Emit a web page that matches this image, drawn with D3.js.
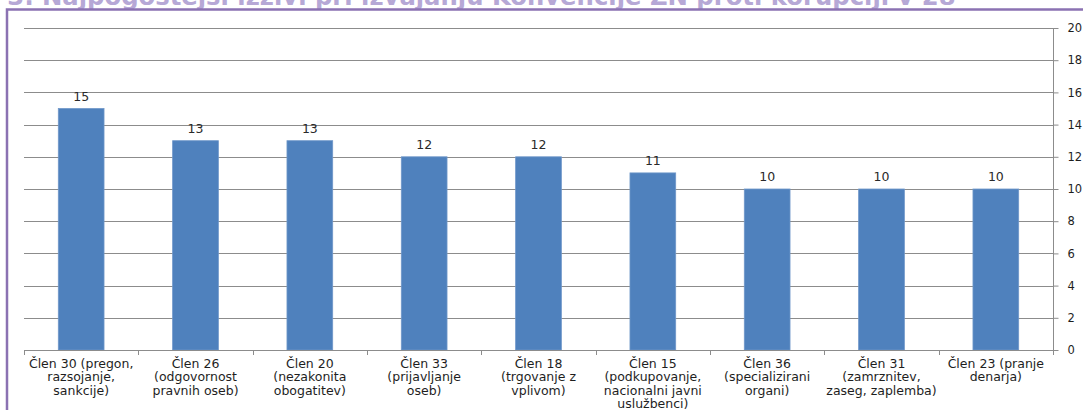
<!DOCTYPE html>
<html>
<head>
<meta charset="utf-8">
<script src="https://cdn.jsdelivr.net/npm/d3@7"></script>
<style>
  html, body { margin: 0; padding: 0; background: #fff; overflow: hidden; }
  svg { display: block; }
  text { font-family: "DejaVu Sans", Verdana, sans-serif; }
</style>
</head>
<body>
<svg id="chart" width="1083" height="410"></svg>
<script>
// Articles of the UN Convention against Corruption (category labels, one line per entry)
const categories = [
  ["Člen 30 (pregon,", "razsojanje,", "sankcije)"],
  ["Člen 26", "(odgovornost", "pravnih oseb)"],
  ["Člen 20", "(nezakonita", "obogatitev)"],
  ["Člen 33", "(prijavljanje", "oseb)"],
  ["Člen 18", "(trgovanje z", "vplivom)"],
  ["Člen 15", "(podkupovanje,", "nacionalni javni", "uslužbenci)"],
  ["Člen 36", "(specializirani", "organi)"],
  ["Člen 31", "(zamrznitev,", "zaseg, zaplemba)"],
  ["Člen 23 (pranje", "denarja)"]
];
// Number of countries reporting each challenge
const values = [15, 13, 13, 12, 12, 11, 10, 10, 10];
const yTicks = [0, 2, 4, 6, 8, 10, 12, 14, 16, 18, 20];
const titlePrefix = "Slika 3:";
const titleText = "Najpogostejši izzivi pri izvajanju Konvencije ZN proti korupciji v 28";

const svg = d3.select("#chart");

// Plot area
const plotLeft = 24, plotRight = 1053, plotTop = 28, plotBottom = 350;

const x = d3.scaleBand()
  .domain(d3.range(categories.length))
  .range([plotLeft, plotRight])
  .paddingInner(0.6)
  .paddingOuter(0.3);

const xb = d3.scaleBand()
  .domain(d3.range(categories.length))
  .range([plotLeft, plotRight]);

const y = d3.scaleLinear().domain([0, 20]).range([plotBottom, plotTop]);

// Title (partly above the top edge)
svg.append("text")
  .attr("x", 34).attr("y", 5)
  .attr("text-anchor", "end")
  .attr("font-size", 24.3).attr("font-weight", "bold")
  .attr("fill", "#b6a8d6")
  .text(titlePrefix);
svg.append("text")
  .attr("x", 42).attr("y", 5)
  .attr("font-size", 24.3).attr("font-weight", "bold")
  .attr("fill", "#b6a8d6")
  .text(titleText);

// Purple frame around the chart
svg.append("rect")
  .attr("x", 7).attr("y", 9.5)
  .attr("width", 1200).attr("height", 500)
  .attr("fill", "none")
  .attr("stroke", "#8b72b2")
  .attr("stroke-width", 2.5);

// Horizontal gridlines
svg.append("g")
  .selectAll("line")
  .data(yTicks.filter(d => d > 0))
  .join("line")
  .attr("x1", plotLeft).attr("x2", plotRight)
  .attr("y1", d => Math.round(y(d)) + 0.5)
  .attr("y2", d => Math.round(y(d)) + 0.5)
  .attr("stroke", "#8c8c8c")
  .attr("stroke-width", 1);

// Right value axis
const yAxis = d3.axisRight(y)
  .tickValues(yTicks)
  .tickSize(5)
  .tickPadding(9);
const gy = svg.append("g")
  .attr("transform", `translate(${plotRight + 0.5},0)`)
  .call(yAxis);
gy.select(".domain").attr("stroke", "#8c8c8c").attr("d", `M0,${plotTop}V${plotBottom}`);
gy.selectAll(".tick line").attr("stroke", "#8c8c8c");
gy.selectAll(".tick text")
  .attr("font-size", 11.5)
  .attr("fill", "#1e1e1e")
  .style("font-family", "DejaVu Sans, Verdana, sans-serif");

// Bars
svg.append("g")
  .selectAll("rect")
  .data(values)
  .join("rect")
  .attr("x", (d, i) => x(i))
  .attr("y", d => y(d))
  .attr("width", x.bandwidth())
  .attr("height", d => y(0) - y(d))
  .attr("fill", "#4f81bd")
  .attr("stroke", "#6f97c9")
  .attr("stroke-width", 0.8);

// Value labels
svg.append("g")
  .selectAll("text")
  .data(values)
  .join("text")
  .attr("x", (d, i) => x(i) + x.bandwidth() / 2)
  .attr("y", d => y(d) - 8)
  .attr("text-anchor", "middle")
  .attr("font-size", 12.5)
  .attr("fill", "#2a2a2a")
  .text(d => d);

// Category axis
const xAxisLine = svg.append("g");
xAxisLine.append("line")
  .attr("x1", plotLeft).attr("x2", plotRight)
  .attr("y1", plotBottom + 0.5).attr("y2", plotBottom + 0.5)
  .attr("stroke", "#8c8c8c");
xAxisLine.selectAll("line.tick")
  .data(d3.range(categories.length + 1))
  .join("line")
  .attr("class", "tick")
  .attr("x1", i => Math.round(plotLeft + i * xb.step()) + 0.5)
  .attr("x2", i => Math.round(plotLeft + i * xb.step()) + 0.5)
  .attr("y1", plotBottom).attr("y2", plotBottom + 5)
  .attr("stroke", "#8c8c8c");

// Category labels
const labels = svg.append("g")
  .selectAll("text")
  .data(categories)
  .join("text")
  .attr("text-anchor", "middle")
  .attr("font-size", 12.5)
  .attr("fill", "#1e1e1e");
labels.selectAll("tspan")
  .data((d, i) => d.map(line => ({ line, i })))
  .join("tspan")
  .attr("x", d => xb(d.i) + xb.bandwidth() / 2)
  .attr("y", (d, j) => 367.5 + j * 13.5)
  .text(d => d.line);
</script>
</body>
</html>
